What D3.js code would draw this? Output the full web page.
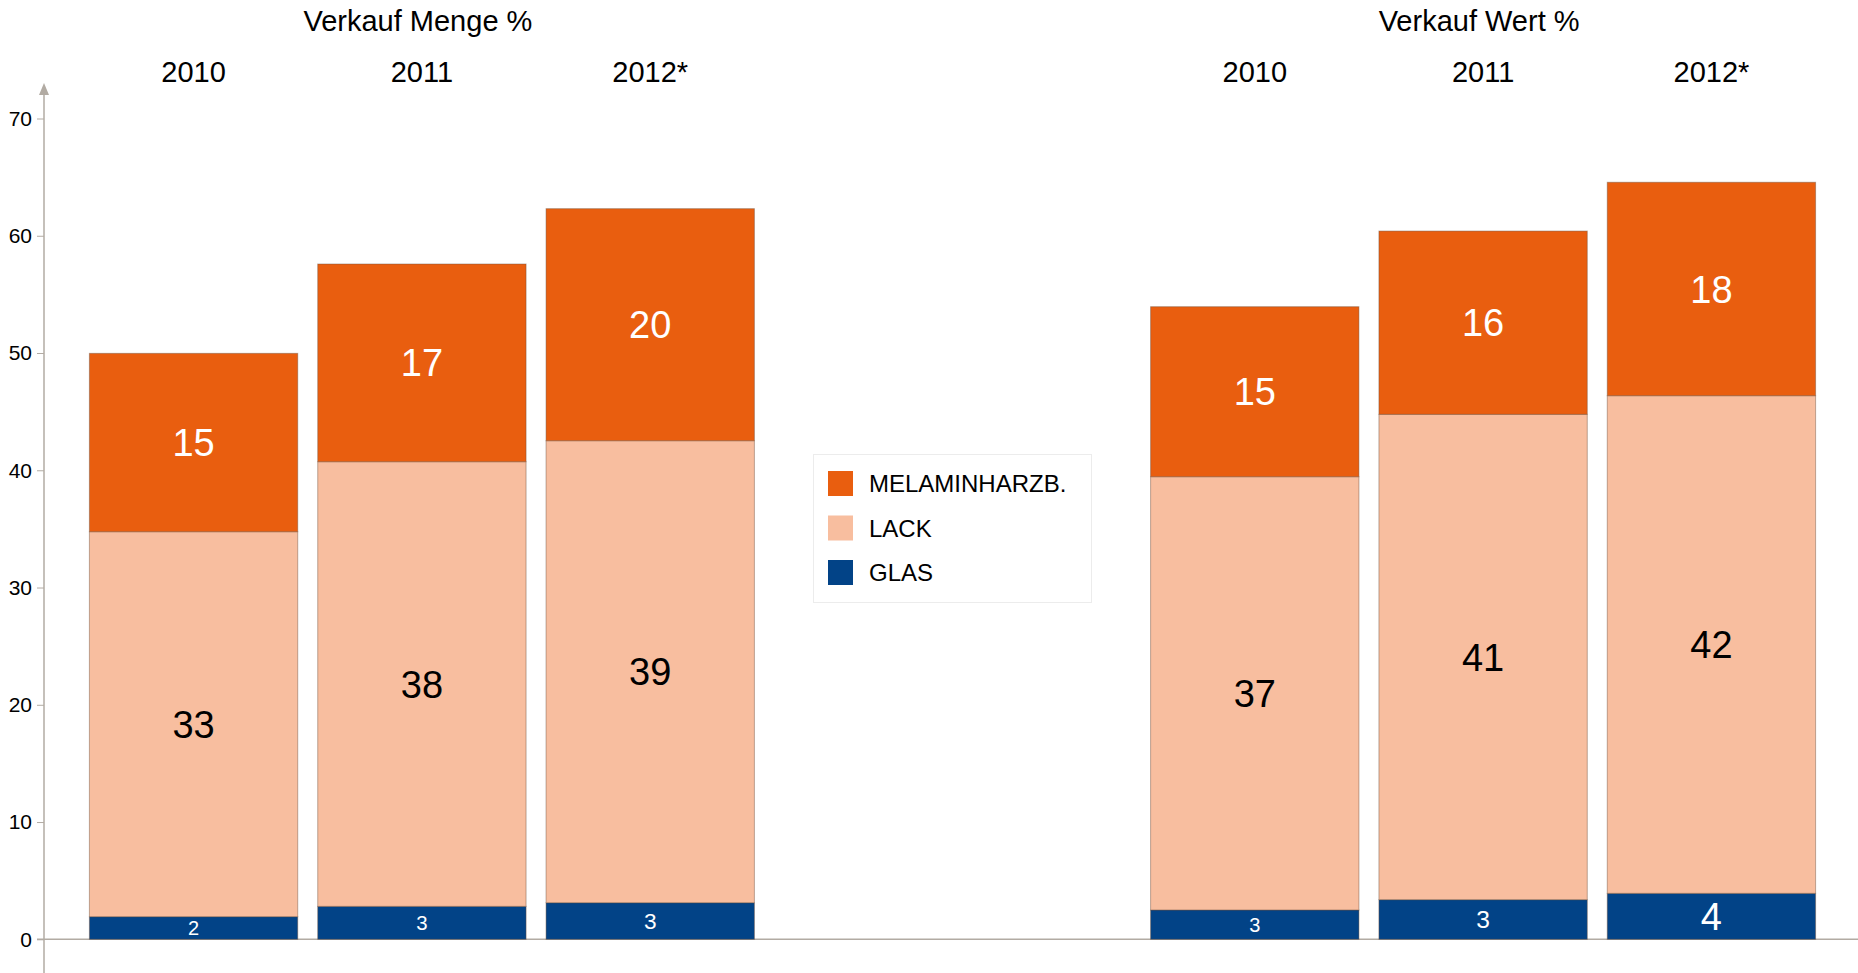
<!DOCTYPE html>
<html>
<head>
<meta charset="utf-8">
<script src="https://cdn.jsdelivr.net/npm/d3@7"></script>
<style>
    html, body { margin: 0; padding: 0; background: #fff; }
    svg { display: block; font-family: "Liberation Sans", Arial, sans-serif; }
</style>
</head>
<body>
<div id="chart"></div>
<script>
// Data
const YEARS = ["2010", "2011", "2012*"];
const GROUP_TITLES = ["Verkauf Menge %", "Verkauf Wert %"];
const SERIES = ["GLAS", "LACK", "MELAMINHARZB."];

const MENGE_GLAS = [1.93, 2.81, 3.12];
const MENGE_LACK = [32.83, 37.92, 39.40];
const MENGE_MELAMIN = [15.21, 16.86, 19.79];

const WERT_GLAS = [2.5, 3.38, 3.92];
const WERT_LACK = [36.95, 41.39, 42.44];
const WERT_MELAMIN = [14.5, 15.63, 18.2];

const Y_TICKS = [0, 10, 20, 30, 40, 50, 60, 70];

const WIDTH = 1858;
const HEIGHT = 973;
const AXIS_X = 44;
const AXIS_COLOR = "#b2aba3";
const FILL = { "GLAS": "#024387", "LACK": "#f8be9f", "MELAMINHARZB.": "#e95e0f" };
const LABEL_COLOR = { "GLAS": "#ffffff", "LACK": "#000000", "MELAMINHARZB.": "#ffffff" };

function rows(glas, lack, mel) {
    return YEARS.map((year, i) => ({ year: year, "GLAS": glas[i], "LACK": lack[i], "MELAMINHARZB.": mel[i] }));
}

const groups = [
    { title: GROUP_TITLES[0], rows: rows(MENGE_GLAS, MENGE_LACK, MENGE_MELAMIN), range: [79.4, 764.4] },
    { title: GROUP_TITLES[1], rows: rows(WERT_GLAS, WERT_LACK, WERT_MELAMIN), range: [1140.6, 1825.6] }
];

const svg = d3.select("#chart").append("svg")
    .attr("width", WIDTH)
    .attr("height", HEIGHT)
    .attr("viewBox", [0, 0, WIDTH, HEIGHT]);

const y = d3.scaleLinear().domain([0, 70]).range([939.3, 118.5]);

// Y axis
const yAxis = svg.append("g")
    .attr("transform", `translate(${AXIS_X},0)`)
    .call(d3.axisLeft(y).tickValues(Y_TICKS).tickSize(7).tickPadding(5));
yAxis.select(".domain").remove();
yAxis.selectAll(".tick line").attr("stroke", AXIS_COLOR);
yAxis.selectAll(".tick text")
    .attr("fill", "#000")
    .style("font-size", "21px")
    .style("font-family", "'Liberation Sans', Arial, sans-serif");

svg.append("line")
    .attr("x1", AXIS_X).attr("x2", AXIS_X)
    .attr("y1", 90).attr("y2", HEIGHT)
    .attr("stroke", AXIS_COLOR).attr("stroke-width", 1.5);
svg.append("path")
    .attr("d", `M ${AXIS_X} 83 L ${AXIS_X - 5} 95 L ${AXIS_X + 5} 95 Z`)
    .attr("fill", AXIS_COLOR);

// Zero line across the chart
svg.append("line")
    .attr("x1", AXIS_X - 7).attr("x2", WIDTH)
    .attr("y1", y(0)).attr("y2", y(0))
    .attr("stroke", AXIS_COLOR).attr("stroke-width", 1.5);

const stack = d3.stack().keys(SERIES);

groups.forEach(function(group) {
    const x = d3.scaleBand()
        .domain(YEARS)
        .range(group.range)
        .paddingInner(0.0876)
        .paddingOuter(0.0438);

    const g = svg.append("g");
    const layers = stack(group.rows);

    layers.forEach(function(layer) {
        const key = layer.key;
        g.selectAll(null)
            .data(layer)
            .join("rect")
            .attr("x", d => x(d.data.year))
            .attr("width", x.bandwidth())
            .attr("y", d => y(d[1]))
            .attr("height", d => y(d[0]) - y(d[1]))
            .attr("fill", FILL[key])
            .attr("stroke", "rgba(110,80,60,0.45)")
            .attr("stroke-width", 1);

        g.selectAll(null)
            .data(layer)
            .join("text")
            .each(function(d) {
                const h = y(d[0]) - y(d[1]);
                const fs = h > 42 ? 38 : Math.max(20, h * 0.62);
                d3.select(this)
                    .attr("x", x(d.data.year) + x.bandwidth() / 2)
                    .attr("y", (y(d[0]) + y(d[1])) / 2 + fs * 0.358)
                    .style("font-size", `${fs}px`);
            })
            .attr("text-anchor", "middle")
            .attr("fill", LABEL_COLOR[key])
            .text(d => Math.round(d.data[key]));
    });

    // Year labels
    g.selectAll(null)
        .data(YEARS)
        .join("text")
        .attr("x", d => x(d) + x.bandwidth() / 2)
        .attr("y", 82)
        .attr("text-anchor", "middle")
        .style("font-size", "29px")
        .text(d => d);

    // Group title
    g.append("text")
        .attr("x", (group.range[0] + group.range[1]) / 2 - 4)
        .attr("y", 31)
        .attr("text-anchor", "middle")
        .style("font-size", "29px")
        .text(group.title);
});

// Legend
const legend = svg.append("g");
legend.append("rect")
    .attr("x", 813.5).attr("y", 454.5)
    .attr("width", 278).attr("height", 148)
    .attr("fill", "#fff")
    .attr("stroke", "#ececec");

SERIES.slice().reverse().forEach(function(key, i) {
    const top = 471 + i * 44.5;
    legend.append("rect")
        .attr("x", 828).attr("y", top)
        .attr("width", 25).attr("height", 25)
        .attr("fill", FILL[key]);
    legend.append("text")
        .attr("x", 869)
        .attr("y", top + 12.5 + 24 * 0.358)
        .style("font-size", "24px")
        .text(key);
});
</script>
</body>
</html>
